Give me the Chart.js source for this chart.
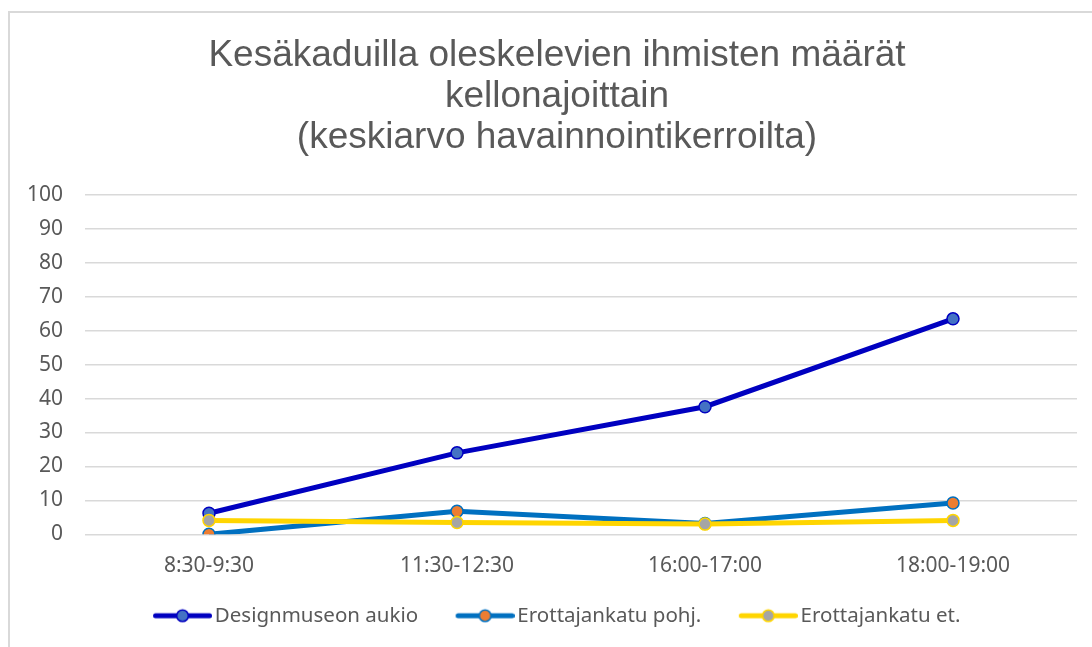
<!DOCTYPE html>
<html lang="fi">
<head>
    <meta charset="UTF-8">
    <title>Kesäkaduilla oleskelevien ihmisten määrät</title>
    <style>
        html, body { margin: 0; padding: 0; background: #fff; }
        .wrap { position: relative; width: 1092px; height: 647px; overflow: hidden; }
        .frame { position: absolute; left: 8px; top: 11px; width: 1200px; height: 800px;
                 border-left: 2px solid #d9d9d9; border-top: 2px solid #d9d9d9; pointer-events: none; }
        canvas { position: absolute; left: 0; top: 0; }
    </style>
</head>
<body>

<div class="wrap">
    <canvas id="myChart" width="1092" height="647"></canvas>
    <div class="frame"></div>
</div>

<script src="https://cdn.jsdelivr.net/npm/chart.js@4/dist/chart.umd.min.js"></script>

<script>
    // data
    var timeSlots = ['8:30-9:30', '11:30-12:30', '16:00-17:00', '18:00-19:00'];
    var designmuseo = [6.2, 24, 37.6, 63.5];
    var erottajaPohj = [0, 6.8, 3.2, 9.2];
    var erottajaEt = [4.1, 3.5, 3.0, 4.1];
    var yTicks = [0, 10, 20, 30, 40, 50, 60, 70, 80, 90, 100];

    var titleLines = ['Kesäkaduilla oleskelevien ihmisten määrät', 'kellonajoittain', '(keskiarvo havainnointikerroilta)'];

    // legend marker: thick line with a circle in the middle
    // (image is a bit wider than the legend box so the line nearly touches the text)
    function legendMarker(lineColor, fillColor) {
        var c = document.createElement('canvas');
        c.width = 88;
        c.height = 16;
        var ctx = c.getContext('2d');
        ctx.strokeStyle = lineColor;
        ctx.lineWidth = 5;
        ctx.lineCap = 'round';
        ctx.beginPath();
        ctx.moveTo(31.5, 8);
        ctx.lineTo(85.5, 8);
        ctx.stroke();
        ctx.beginPath();
        ctx.arc(58.5, 8, 5.8, 0, Math.PI * 2);
        ctx.fillStyle = fillColor;
        ctx.fill();
        ctx.lineWidth = 1.5;
        ctx.stroke();
        return c;
    }

    // title drawn centred over the plot like in the original
    var titlePlugin = {
        id: 'bigTitle',
        afterDraw: function (chart) {
            var c = chart.ctx;
            c.save();
            c.font = '37px "Liberation Sans"';
            c.fillStyle = '#595959';
            c.textAlign = 'center';
            c.textBaseline = 'alphabetic';
            for (var i = 0; i < titleLines.length; i++) {
                c.fillText(titleLines[i], 557, 66 + i * 41);
            }
            c.restore();
        }
    };

    var series = [
        { label: 'Designmuseon aukio', data: designmuseo, line: '#0000c0', fill: '#4472c4', order: 3 },
        { label: 'Erottajankatu pohj.', data: erottajaPohj, line: '#0070c0', fill: '#ed7d31', order: 2 },
        { label: 'Erottajankatu et.', data: erottajaEt, line: '#ffd500', fill: '#a5a5a5', order: 1 }
    ];

    var datasets = series.map(function (s) {
        return {
            label: s.label,
            data: s.data,
            order: s.order,
            borderColor: s.line,
            backgroundColor: s.fill,
            borderWidth: 5,
            pointRadius: 6,
            pointBorderWidth: 1.5,
            pointBackgroundColor: s.fill,
            pointBorderColor: s.line,
            pointStyle: 'circle',
            tension: 0,
            marker: legendMarker(s.line, s.fill)
        };
    });

    var ctx = document.getElementById('myChart').getContext('2d');
    var myChart = new Chart(ctx, {
        type: 'line',
        data: { labels: timeSlots, datasets: datasets },
        plugins: [titlePlugin],
        options: {
            responsive: false,
            animation: false,
            layout: { padding: { left: 15, right: 15, top: 195, bottom: 11 } },
            plugins: {
                tooltip: { enabled: false },
                title: { display: false },
                legend: {
                    position: 'bottom',
                    labels: {
                        color: '#595959',
                        font: { family: 'Noto Sans', size: 20.5 },
                        usePointStyle: true,
                        pointStyleWidth: 73,
                        padding: 16,
                        sort: function (a, b) { return a.datasetIndex - b.datasetIndex; },
                        generateLabels: function (chart) {
                            return chart.data.datasets.map(function (ds, i) {
                                return {
                                    text: ds.label,
                                    fontColor: '#595959',
                                    pointStyle: ds.marker,
                                    fillStyle: ds.backgroundColor,
                                    strokeStyle: ds.borderColor,
                                    lineWidth: 0,
                                    hidden: false,
                                    datasetIndex: i
                                };
                            });
                        }
                    }
                }
            },
            scales: {
                x: {
                    offset: true,
                    grid: { display: false },
                    border: { display: false },
                    ticks: {
                        color: '#595959',
                        font: { family: 'Noto Sans', size: 21 },
                        padding: 11
                    }
                },
                y: {
                    min: 0,
                    max: 100,
                    afterBuildTicks: function (scale) {
                        scale.ticks = yTicks.map(function (v) { return { value: v }; });
                    },
                    afterFit: function (scale) { scale.width = 70; },
                    grid: { color: '#d9d9d9', lineWidth: 1.5, drawTicks: false },
                    border: { display: false },
                    ticks: {
                        color: '#595959',
                        font: { family: 'Noto Sans', size: 21 },
                        padding: 22
                    }
                }
            }
        }
    });
</script>

</body>
</html>
